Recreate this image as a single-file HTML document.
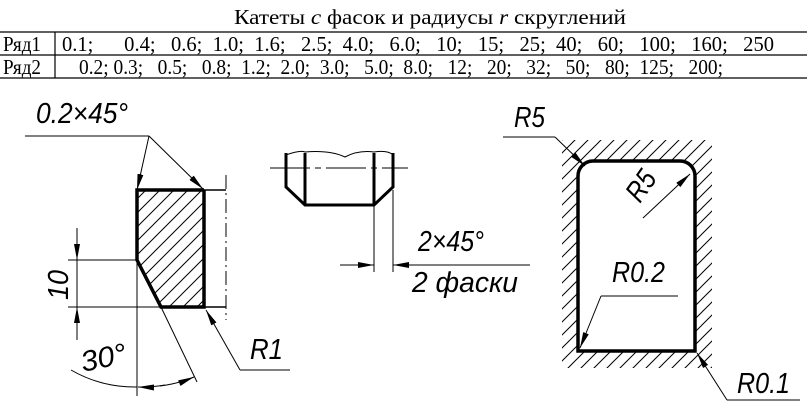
<!DOCTYPE html>
<html><head><meta charset="utf-8"><style>
html,body{margin:0;padding:0;background:#fff;}
svg{display:block;}
.t{font-family:"Liberation Serif","DejaVu Serif",serif;font-size:21px;fill:#000;}
.d{font-family:"Liberation Sans","DejaVu Sans",sans-serif;font-style:italic;font-size:29px;fill:#000;}
</style></head><body>
<svg width="807" height="411" viewBox="0 0 807 411" xmlns="http://www.w3.org/2000/svg">
<defs>
<pattern id="h" patternUnits="userSpaceOnUse" width="14" height="14">
<path d="M-2,16 L16,-2 M-2,2 L2,-2 M12,16 L16,12" stroke="#000" stroke-width="1"/>
</pattern>
<pattern id="h2" patternUnits="userSpaceOnUse" width="13" height="13">
<path d="M-2,15 L15,-2 M-2,2 L2,-2 M11,15 L15,11" stroke="#000" stroke-width="1"/>
</pattern>
<marker id="a" viewBox="0 0 16 6" refX="16" refY="3" markerWidth="16" markerHeight="6" markerUnits="userSpaceOnUse" orient="auto"><path d="M0,0 L16,3 L0,6 Z" fill="#000"/></marker>
</defs>

<!-- table -->
<text class="t" x="430" y="24" text-anchor="middle" font-size="22" textLength="392" lengthAdjust="spacingAndGlyphs">Катеты <tspan font-style="italic">c</tspan> фасок и радиусы <tspan font-style="italic">r</tspan>  скруглений</text>
<g stroke="#000" stroke-width="1.2">
<line x1="0" y1="32" x2="807" y2="32"/>
<line x1="0" y1="55" x2="807" y2="55"/>
<line x1="0" y1="78" x2="807" y2="78"/>
<line x1="55" y1="32" x2="55" y2="78"/>
</g>
<text class="t" x="3" y="51" textLength="38" lengthAdjust="spacingAndGlyphs">Ряд1</text>
<text class="t" x="3" y="74" textLength="38" lengthAdjust="spacingAndGlyphs">Ряд2</text>
<text class="t" x="62" y="51" xml:space="preserve" textLength="712" lengthAdjust="spacingAndGlyphs">0.1;      0.4;   0.6;  1.0;  1.6;   2.5;  4.0;   6.0;   10;   15;   25;  40;   60;   100;   160;   250</text>
<text class="t" x="79" y="74" xml:space="preserve" textLength="644" lengthAdjust="spacingAndGlyphs">0.2; 0.3;   0.5;   0.8;  1.2;  2.0;  3.0;   5.0;  8.0;   12;   20;   32;   50;   80;  125;   200;</text>

<!-- left part -->
<polygon points="137,190 204,190 204,307 161,307 137,260" fill="url(#h)"/>
<polyline points="204,190 137,190 137,260 161,307 204,307 204,190" fill="none" stroke="#000" stroke-width="3.5"/>
<g stroke="#000" stroke-width="1.5">
<line x1="204" y1="190" x2="226" y2="190"/>
<line x1="204" y1="307" x2="226" y2="307"/>
</g>
<line x1="226" y1="175" x2="226" y2="320" stroke="#000" stroke-width="1" stroke-dasharray="14,4,2,4"/>
<g stroke="#000" stroke-width="1" fill="none">
<line x1="25" y1="136" x2="149" y2="136"/>
<line x1="149" y1="136" x2="137" y2="190" marker-end="url(#a)"/>
<line x1="149" y1="136" x2="203" y2="189" marker-end="url(#a)"/>
<line x1="68" y1="260" x2="137" y2="260"/>
<line x1="68" y1="307" x2="161" y2="307"/>
<line x1="77" y1="228" x2="77" y2="260" marker-end="url(#a)"/>
<line x1="77" y1="340" x2="77" y2="307" marker-end="url(#a)"/>
<line x1="77" y1="260" x2="77" y2="307"/>
<line x1="137" y1="260" x2="137" y2="396"/>
<line x1="161" y1="307" x2="197" y2="382"/>
<path d="M71,370 A128,128 0 0 0 137,387"/>
<path d="M160,386 A128,128 0 0 0 194,377" marker-end="url(#a)"/>
<path d="M165,385 A128,128 0 0 1 138,387" marker-end="url(#a)"/>
<line x1="240" y1="370" x2="206" y2="310" marker-end="url(#a)"/>
<line x1="240" y1="370" x2="290" y2="370"/>
</g>
<text class="d" x="36" y="123" textLength="92" lengthAdjust="spacingAndGlyphs">0.2×45°</text>
<text class="d" transform="translate(68,285) rotate(-90)" text-anchor="middle" textLength="30" lengthAdjust="spacingAndGlyphs">10</text>
<text class="d" transform="translate(83,372) rotate(-12)" textLength="46" lengthAdjust="spacingAndGlyphs">30°</text>
<text class="d" x="250" y="359" textLength="33" lengthAdjust="spacingAndGlyphs">R1</text>

<!-- middle part -->
<g stroke="#000" fill="none">
<path d="M286,155 Q300,150 305,152 Q330,150 345,157 Q358,150 374,152 Q388,150 393,155" stroke-width="1"/>
<polyline points="286,153 286,187 305,205 374,205 393,187 393,153" stroke-width="3"/>
<line x1="305" y1="153" x2="305" y2="205" stroke-width="3"/>
<line x1="374" y1="153" x2="374" y2="205" stroke-width="3"/>
<line x1="270" y1="168" x2="408" y2="168" stroke-width="1" stroke-dasharray="40,5,6,5"/>
<line x1="374" y1="205" x2="374" y2="272" stroke-width="1"/>
<line x1="393" y1="190" x2="393" y2="272" stroke-width="1"/>
<line x1="340" y1="265" x2="374" y2="265" stroke-width="1" marker-end="url(#a)"/>
<line x1="530" y1="265" x2="393" y2="265" stroke-width="1" marker-end="url(#a)"/>
</g>
<text class="d" x="418" y="251" textLength="66" lengthAdjust="spacingAndGlyphs">2×45°</text>
<text class="d" x="412" y="292" textLength="106" lengthAdjust="spacingAndGlyphs">2 фаски</text>

<!-- right part -->
<path fill="url(#h2)" fill-rule="evenodd" d="M562,140 L712,140 L712,368 L562,368 Z M578,176 A15,15 0 0 1 593,161 L680,161 A15,15 0 0 1 695,176 L695,351 L578,351 Z"/>
<path d="M578,176 A15,15 0 0 1 593,161 L680,161 A15,15 0 0 1 695,176 L695,351 L578,351 Z" fill="#fff" stroke="#000" stroke-width="3.5"/>
<g stroke="#000" stroke-width="1" fill="none">
<line x1="503" y1="137" x2="555" y2="137"/>
<line x1="555" y1="137" x2="585" y2="166" marker-end="url(#a)"/>
<line x1="643" y1="218" x2="690" y2="174" marker-end="url(#a)"/>
<line x1="601" y1="296" x2="678" y2="296"/>
<line x1="601" y1="296" x2="580" y2="348" marker-end="url(#a)"/>
<line x1="727" y1="400" x2="697" y2="353" marker-end="url(#a)"/>
<line x1="727" y1="400" x2="800" y2="400"/>
</g>
<text class="d" x="514" y="127" textLength="31" lengthAdjust="spacingAndGlyphs">R5</text>
<text class="d" transform="translate(640,204) rotate(-55)" textLength="31" lengthAdjust="spacingAndGlyphs">R5</text>
<text class="d" x="612" y="282" textLength="53" lengthAdjust="spacingAndGlyphs">R0.2</text>
<text class="d" x="737" y="393" textLength="53" lengthAdjust="spacingAndGlyphs">R0.1</text>
</svg>
</body></html>
